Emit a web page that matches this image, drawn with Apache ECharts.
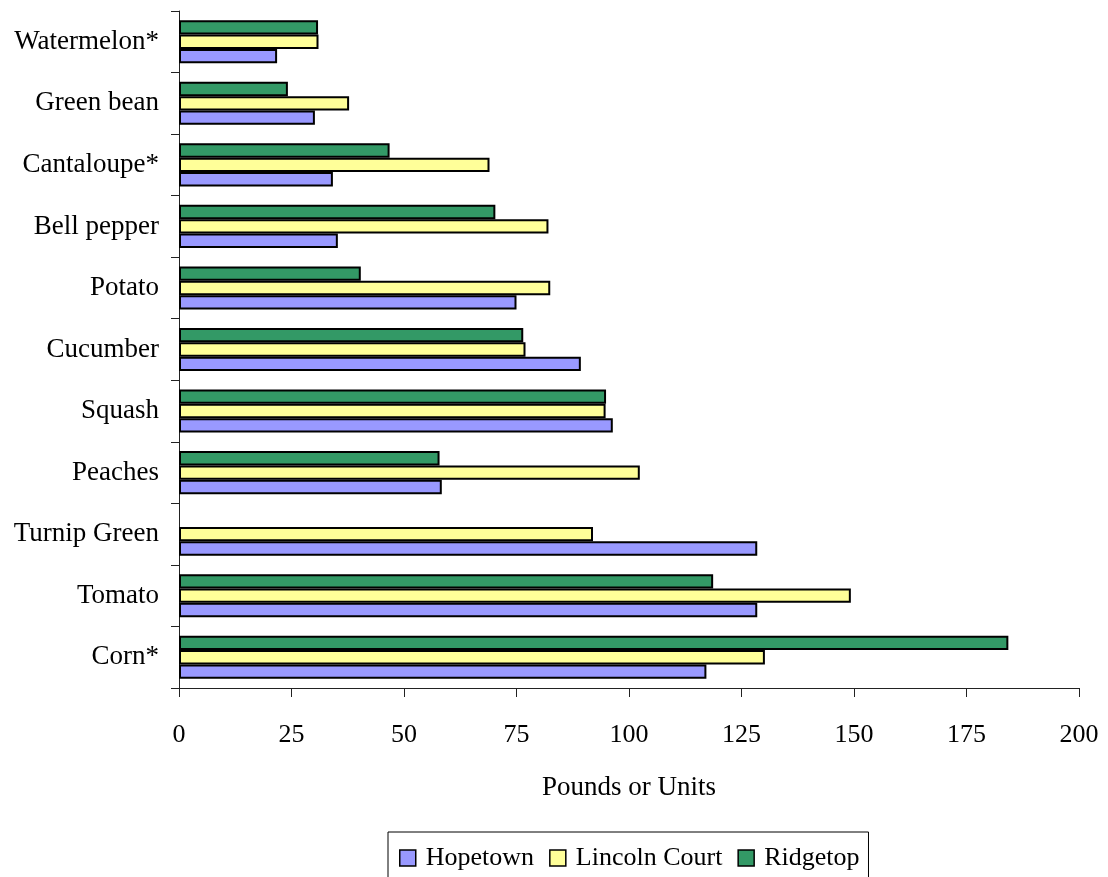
<!DOCTYPE html>
<html>
<head>
<meta charset="utf-8">
<title>Produce by garden</title>
<script src="https://cdn.jsdelivr.net/npm/echarts@6/dist/echarts.min.js"></script>
<style>
  html, body { margin: 0; padding: 0; background: #fff; }
  #chart { width: 1108px; height: 877px; }
</style>
</head>
<body>
<div id="chart"></div>
<script>
// Crops listed bottom-to-top as they appear on the category axis
const categories = ['Corn*', 'Tomato', 'Turnip Green', 'Peaches', 'Squash', 'Cucumber',
  'Potato', 'Bell pepper', 'Cantaloupe*', 'Green bean', 'Watermelon*'];

// Pounds or units per garden
const hopetown     = [117.2, 128.5, 128.5, 58.4, 96.4, 89.3, 75.0, 35.3, 34.2, 30.2, 21.8];
const lincolnCourt = [130.2, 149.3, 92.0, 102.4, 94.8, 77.0, 82.5, 82.1, 69.0, 37.8, 31.0];
const ridgetop     = [184.3, 118.7, null, 57.9, 94.9, 76.5, 40.4, 70.3, 46.8, 24.2, 30.9];

const xTicks = { min: 0, max: 200, step: 25 };

const FONT = '"Liberation Serif", "Times New Roman", serif';

const chart = echarts.init(document.getElementById('chart'), null, { renderer: 'canvas' });

function barSeries(name, data, color) {
  return {
    name: name,
    type: 'bar',
    data: data,
    barGap: '0%',
    barCategoryGap: '30%',
    itemStyle: { color: color, borderColor: '#000', borderWidth: 2 },
    emphasis: { disabled: true }
  };
}

chart.setOption({
  animation: false,
  backgroundColor: '#fff',
  grid: { left: 179, right: 29, top: 11, bottom: 189, containLabel: false },
  legend: {
    data: ['Hopetown', 'Lincoln Court', 'Ridgetop'],
    left: 388,
    top: 832,
    orient: 'horizontal',
    itemWidth: 16,
    itemHeight: 16,
    itemGap: 15,
    padding: [13, 9, 13, 11],
    borderColor: '#000',
    borderWidth: 1,
    icon: 'rect',
    itemStyle: { borderColor: '#000', borderWidth: 1.5 },
    textStyle: { fontFamily: FONT, fontSize: 26, color: '#000', padding: [0, 0, 0, 5] }
  },
  xAxis: {
    type: 'value',
    min: xTicks.min,
    max: xTicks.max,
    interval: xTicks.step,
    name: 'Pounds or Units',
    nameLocation: 'middle',
    nameGap: 86,
    nameTextStyle: { fontFamily: FONT, fontSize: 27, color: '#000' },
    axisLine: { show: true, lineStyle: { color: '#222', width: 1 } },
    axisTick: { show: true, length: 9, lineStyle: { color: '#222' } },
    axisLabel: { fontFamily: FONT, fontSize: 26, color: '#000', margin: 34 },
    splitLine: { show: false }
  },
  yAxis: {
    type: 'category',
    data: categories,
    axisLine: { show: true, lineStyle: { color: '#222', width: 1 } },
    axisTick: { show: true, length: 8, lineStyle: { color: '#222' } },
    axisLabel: { fontFamily: FONT, fontSize: 27, color: '#000', margin: 20 },
    splitLine: { show: false }
  },
  series: [
    barSeries('Ridgetop', ridgetop, '#339966'),
    barSeries('Lincoln Court', lincolnCourt, '#FFFF99'),
    barSeries('Hopetown', hopetown, '#9999FF')
  ]
});
</script>
</body>
</html>
